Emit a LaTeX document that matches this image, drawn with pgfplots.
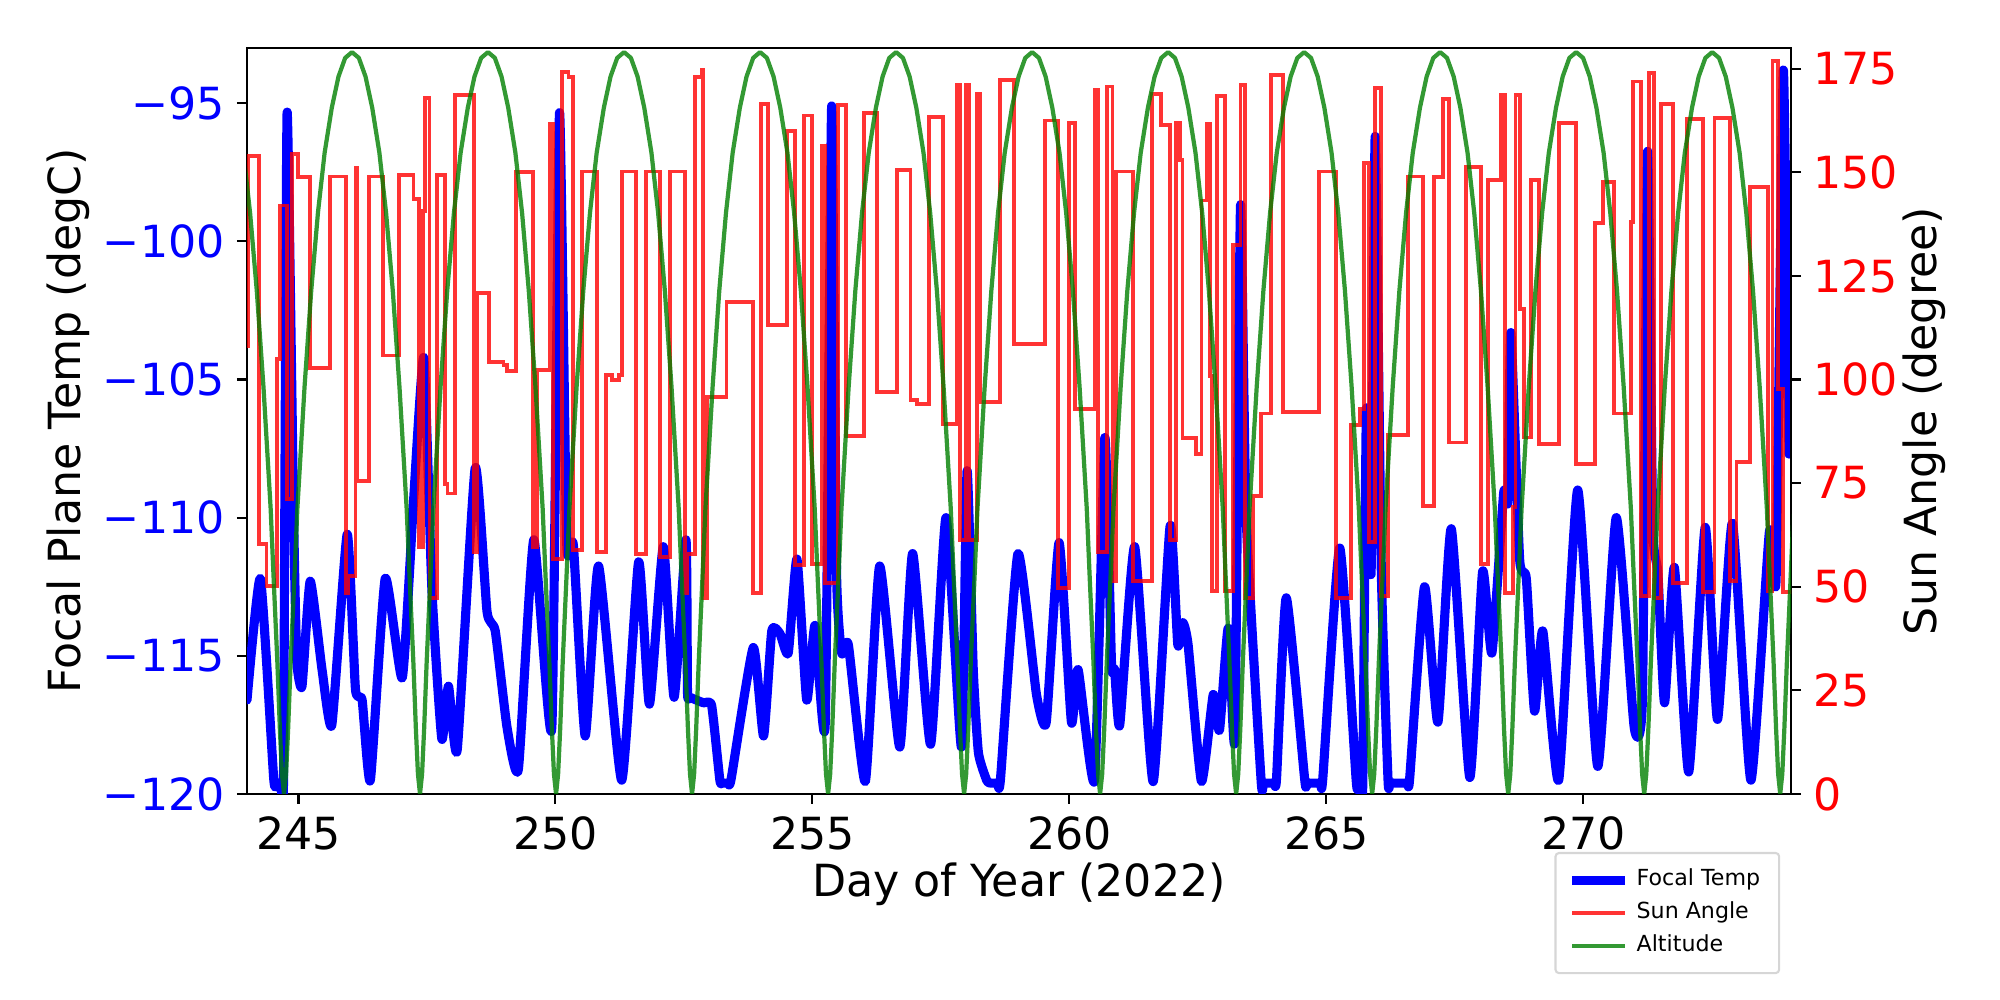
\documentclass[border=0pt]{standalone}
\usepackage{pgfplots}
\pgfplotsset{compat=1.18}
\usepackage{fontspec}
\setmainfont{DejaVu Sans}
\definecolor{mblue}{rgb}{0,0,1}
\definecolor{mred}{rgb}{1,0,0}
\definecolor{mgreen}{rgb}{0,0.502,0}
\definecolor{legframe}{rgb}{0.84,0.84,0.84}
\newcommand{\tf}{\fontsize{12.6}{15}\selectfont}
\begin{document}
\begin{tikzpicture}
\path[use as bounding box] (0,0) rectangle (200mm,100mm);
\begin{axis}[
  at={(24.7mm,20.6mm)}, anchor=south west,
  width=154.4mm, height=74.6mm, scale only axis,
  xmin=244, xmax=274.04, ymin=-120, ymax=-93,
  tick pos=left, tick align=outside, major tick length=1mm,
  axis line style={line width=0.63pt},
  every tick/.style={black, line width=0.63pt},
  xtick={245,250,255,260,265,270},
  xticklabels={245,250,255,260,265,270},
  ytick={-120,-115,-110,-105,-100,-95},
  yticklabels={−120,−115,−110,−105,−100,−95},
  /pgf/number format/assume math mode=true,
  xticklabel style={font=\tf},
  yticklabel style={font=\tf, text=mblue},
  xlabel={Day of Year (2022)},
  ylabel={Focal Plane Temp (degC)},
  label style={font=\tf},
  xlabel style={at={(axis description cs:0.5,-0.1206)}, anchor=center},
  ylabel style={at={(axis description cs:-0.1159,0.5)}, anchor=center, rotate=0},
]
\addplot[mblue, line width=2.6pt, line join=round, line cap=round, smooth, tension=0.3] coordinates {
(244.0,-116.6)(244.26,-112.2)(244.52,-119.45)(244.58,-119.6)(244.66,-119.6)(244.71,-119.5)(244.78,-95.35)(244.91,-110.3)(244.97,-115.2)(245.07,-116.1)(245.23,-112.3)(245.46,-115.5)(245.65,-117.5)(245.95,-110.6)(246.11,-116.2)(246.24,-116.6)(246.40,-119.5)(246.69,-112.2)(247.02,-115.8)(247.24,-109.4)(247.44,-104.2)(247.60,-112.7)(247.79,-118.0)(247.92,-116.1)(248.09,-118.4)(248.44,-108.2)(248.67,-113.4)(248.83,-114.1)(249.06,-117.6)(249.28,-119.1)(249.58,-110.8)(249.93,-117.6)(250.08,-95.35)(250.22,-110.9)(250.35,-111.0)(250.58,-117.9)(250.84,-111.75)(251.29,-119.5)(251.62,-111.6)(251.83,-116.75)(252.10,-111.05)(252.31,-116.5)(252.54,-110.8)(252.57,-116.3)(252.62,-116.5)(252.88,-116.7)(253.04,-116.8)(253.20,-119.5)(253.25,-119.6)(253.36,-119.6)(253.42,-119.45)(253.85,-114.7)(254.05,-117.9)(254.21,-114.1)(254.37,-114.2)(254.53,-114.9)(254.70,-111.5)(254.89,-116.6)(255.05,-113.9)(255.25,-117.45)(255.375,-95.1)(255.47,-112.0)(255.57,-114.9)(255.70,-114.6)(256.03,-119.55)(256.31,-111.75)(256.70,-118.3)(256.95,-111.3)(257.30,-118.2)(257.60,-110.0)(257.90,-118.3)(258.01,-108.3)(258.13,-115.5)(258.23,-118.5)(258.39,-119.5)(258.45,-119.6)(258.60,-119.6)(258.66,-119.45)(259.00,-111.3)(259.36,-116.4)(259.55,-117.4)(259.80,-110.9)(260.04,-117.4)(260.17,-115.5)(260.49,-119.5)(260.69,-107.1)(260.82,-115.3)(260.88,-115.5)(260.98,-117.5)(261.27,-111.05)(261.63,-119.55)(261.96,-110.3)(262.11,-114.6)(262.21,-113.8)(262.31,-114.6)(262.57,-119.55)(262.80,-116.4)(262.92,-117.7)(263.09,-114.0)(263.22,-118.0)(263.33,-98.7)(263.44,-110.0)(263.73,-119.5)(263.78,-119.6)(263.98,-119.6)(264.03,-119.45)(264.22,-112.9)(264.58,-119.5)(264.63,-119.6)(264.88,-119.6)(264.93,-119.45)(265.26,-111.1)(265.58,-119.5)(265.62,-119.6)(265.68,-119.6)(265.71,-119.45)(265.78,-106.05)(265.87,-112.0)(265.95,-96.2)(266.07,-112.0)(266.20,-119.5)(266.25,-119.6)(266.57,-119.6)(266.62,-119.45)(266.91,-112.5)(267.17,-117.4)(267.43,-110.4)(267.79,-119.4)(268.04,-111.95)(268.22,-114.9)(268.45,-109.1)(268.53,-109.4)(268.59,-103.3)(268.76,-111.5)(268.89,-112.2)(269.05,-117.0)(269.21,-114.1)(269.52,-119.5)(269.89,-109.0)(270.28,-119.0)(270.64,-110.0)(270.99,-117.6)(271.15,-116.5)(271.25,-96.75)(271.35,-110.3)(271.45,-112.0)(271.58,-116.7)(271.77,-111.8)(272.05,-119.2)(272.37,-110.35)(272.61,-117.3)(272.90,-110.2)(273.26,-119.5)(273.62,-110.5)(273.75,-112.2)(273.89,-93.8)(274.0,-107.7)
};
\end{axis}
\begin{axis}[
  at={(24.7mm,20.6mm)}, anchor=south west,
  width=154.4mm, height=74.6mm, scale only axis,
  xmin=244, xmax=274.04, ymin=0, ymax=180,
  axis x line=none, axis y line*=right,
  tick align=outside, major tick length=1mm,
  axis line style={line width=0.63pt},
  every tick/.style={black, line width=0.63pt},
  ytick={0,25,50,75,100,125,150,175},
  yticklabels={0,25,50,75,100,125,150,175},
  /pgf/number format/assume math mode=true,
  yticklabel style={font=\tf, text=mred},
  ylabel={Sun Angle (degree)},
  ylabel style={font=\tf, at={(axis description cs:1.0861,0.5)}, anchor=center, rotate=0},
  legend style={at={(axis description cs:0.993,-0.0777)}, anchor=north east,
    font=\fontsize{6.3}{7.6}\selectfont, draw=legframe, line width=0.6pt,
    rounded corners=1pt, inner xsep=1.2mm, inner ysep=0.9mm, row sep=-0.9pt},
  legend cell align=left,
  legend image code/.code={\draw[#1] (0mm,0mm) -- (5.3mm,0mm);},
]
\addlegendimage{mblue, line width=2.6pt}
\addlegendentry{Focal Temp}
\addplot[mred, opacity=0.8, line width=1.1pt, const plot mark left] coordinates {
(244.0,108)(244.03,154)(244.23,60.3)(244.38,50.2)(244.585,105)(244.65,142)(244.78,71.2)(244.876,154.4)(244.99,148.8)(245.22,102.7)(245.62,149)(245.93,48.4)(245.96,52.5)(246.11,151)(246.15,75.5)(246.37,149)(246.65,105.8)(246.95,149.4)(247.24,143.5)(247.34,59.5)(247.42,140.6)(247.47,168)(247.55,47.3)(247.70,149.4)(247.86,74.7)(247.90,72.5)(248.05,168.6)(248.41,58.3)(248.47,120.8)(248.70,104.2)(248.99,103.5)(249.06,102)(249.24,150)(249.56,59.5)(249.64,102.3)(249.90,161.6)(249.96,56.8)(250.13,174.2)(250.255,173)(250.34,58.9)(250.515,150.2)(250.81,58.3)(250.99,101)(251.10,99.8)(251.23,101)(251.29,150.2)(251.57,57.8)(251.765,150.2)(252.04,57.2)(252.23,150.2)(252.52,48.4)(252.56,57.8)(252.72,173)(252.85,174.7)(252.88,47.3)(252.945,95.7)(253.33,118.7)(253.85,48.4)(253.995,166.5)(254.14,113.2)(254.51,159.9)(254.66,55.2)(254.84,163.7)(254.99,55.4)(255.18,156.4)(255.25,51)(255.49,166.3)(255.65,86.3)(256.01,164.3)(256.26,96.9)(256.64,150.5)(256.91,95.1)(257.03,94.2)(257.27,163.4)(257.545,89.3)(257.82,171)(257.88,61.3)(257.99,171)(258.05,61.3)(258.21,169)(258.26,94.5)(258.65,172.3)(258.92,108.5)(259.52,162.5)(259.78,49.8)(259.995,161.8)(260.105,92.8)(260.49,169.8)(260.56,58.3)(260.73,170.7)(260.84,51.3)(260.90,150.2)(261.24,51.3)(261.615,168.8)(261.79,161.4)(261.95,61.3)(262.07,161.8)(262.146,152.9)(262.20,85.8)(262.47,82)(262.57,143.2)(262.68,161.6)(262.74,100.9)(262.78,49)(262.87,168.4)(263.02,49)(263.18,132.4)(263.33,171)(263.41,47.3)(263.57,71.8)(263.73,91.8)(263.93,173.5)(264.16,92.2)(264.855,150.2)(265.19,47.3)(265.48,89)(265.65,92.8)(265.74,152.3)(265.83,60.7)(265.94,170.4)(266.07,47.8)(266.20,86.7)(266.59,149)(266.88,69.4)(267.10,148.8)(267.27,167.7)(267.38,84.8)(267.72,151.3)(268.01,55.4)(268.14,148.2)(268.40,168.6)(268.48,48.4)(268.63,69.2)(268.68,168.6)(268.76,117)(268.85,86)(268.98,148.2)(269.145,84.4)(269.52,161.8)(269.86,79.7)(270.23,137.7)(270.38,147.6)(270.59,91.8)(270.93,138)(270.97,171.9)(271.12,47.8)(271.28,173.9)(271.38,47.3)(271.51,166.5)(271.74,51)(272.01,162.8)(272.32,48.7)(272.55,163)(272.85,51.3)(272.98,80.2)(273.24,146.4)(273.60,49)(273.68,176.8)(273.78,97.7)(273.88,48.7)(274.05,48.7)
};
\addlegendentry{Sun Angle}
\addplot[mgreen, opacity=0.8, line width=1.2pt, line join=round] coordinates {
(243.670,173.1)(243.800,165.6)(243.930,154.7)(244.060,140.2)(244.190,121.5)(244.320,98.3)(244.460,68.9)(244.520,51.5)(244.590,32.0)(244.640,15.6)(244.680,4.8)
(244.720,0)(244.760,4.8)(244.800,15.6)(244.850,32.0)(244.920,51.5)(244.980,68.9)(245.120,98.3)(245.250,121.5)(245.380,140.2)(245.510,154.7)(245.650,165.6)(245.780,173.1)(245.910,177.6)(246.043,179)(246.176,177.6)(246.306,173.1)(246.436,165.6)(246.576,154.7)(246.706,140.2)(246.836,121.5)(246.966,98.3)(247.106,68.9)(247.166,51.5)(247.236,32.0)(247.286,15.6)(247.326,4.8)
(247.366,0)(247.406,4.8)(247.446,15.6)(247.496,32.0)(247.566,51.5)(247.626,68.9)(247.766,98.3)(247.896,121.5)(248.026,140.2)(248.156,154.7)(248.296,165.6)(248.426,173.1)(248.556,177.6)(248.689,179)(248.822,177.6)(248.952,173.1)(249.082,165.6)(249.222,154.7)(249.352,140.2)(249.482,121.5)(249.612,98.3)(249.752,68.9)(249.812,51.5)(249.882,32.0)(249.932,15.6)(249.972,4.8)
(250.013,0)(250.053,4.8)(250.093,15.6)(250.143,32.0)(250.213,51.5)(250.273,68.9)(250.413,98.3)(250.543,121.5)(250.673,140.2)(250.803,154.7)(250.943,165.6)(251.073,173.1)(251.203,177.6)(251.336,179)(251.469,177.6)(251.599,173.1)(251.729,165.6)(251.869,154.7)(251.999,140.2)(252.129,121.5)(252.259,98.3)(252.399,68.9)(252.459,51.5)(252.529,32.0)(252.579,15.6)(252.619,4.8)
(252.659,0)(252.699,4.8)(252.739,15.6)(252.789,32.0)(252.859,51.5)(252.919,68.9)(253.059,98.3)(253.189,121.5)(253.319,140.2)(253.449,154.7)(253.589,165.6)(253.719,173.1)(253.849,177.6)(253.982,179)(254.115,177.6)(254.245,173.1)(254.375,165.6)(254.515,154.7)(254.645,140.2)(254.775,121.5)(254.905,98.3)(255.045,68.9)(255.105,51.5)(255.175,32.0)(255.225,15.6)(255.265,4.8)
(255.306,0)(255.346,4.8)(255.386,15.6)(255.436,32.0)(255.506,51.5)(255.566,68.9)(255.706,98.3)(255.836,121.5)(255.966,140.2)(256.096,154.7)(256.236,165.6)(256.366,173.1)(256.496,177.6)(256.629,179)(256.762,177.6)(256.892,173.1)(257.022,165.6)(257.162,154.7)(257.292,140.2)(257.422,121.5)(257.552,98.3)(257.692,68.9)(257.752,51.5)(257.822,32.0)(257.872,15.6)(257.912,4.8)
(257.952,0)(257.992,4.8)(258.032,15.6)(258.082,32.0)(258.152,51.5)(258.212,68.9)(258.352,98.3)(258.482,121.5)(258.612,140.2)(258.742,154.7)(258.882,165.6)(259.012,173.1)(259.142,177.6)(259.275,179)(259.408,177.6)(259.538,173.1)(259.668,165.6)(259.808,154.7)(259.938,140.2)(260.068,121.5)(260.198,98.3)(260.338,68.9)(260.398,51.5)(260.468,32.0)(260.518,15.6)(260.558,4.8)
(260.598,0)(260.638,4.8)(260.678,15.6)(260.728,32.0)(260.798,51.5)(260.858,68.9)(260.998,98.3)(261.128,121.5)(261.258,140.2)(261.388,154.7)(261.528,165.6)(261.658,173.1)(261.788,177.6)(261.921,179)(262.054,177.6)(262.184,173.1)(262.314,165.6)(262.454,154.7)(262.584,140.2)(262.714,121.5)(262.844,98.3)(262.984,68.9)(263.044,51.5)(263.114,32.0)(263.164,15.6)(263.204,4.8)
(263.245,0)(263.285,4.8)(263.325,15.6)(263.375,32.0)(263.445,51.5)(263.505,68.9)(263.645,98.3)(263.775,121.5)(263.905,140.2)(264.035,154.7)(264.175,165.6)(264.305,173.1)(264.435,177.6)(264.568,179)(264.701,177.6)(264.831,173.1)(264.961,165.6)(265.101,154.7)(265.231,140.2)(265.361,121.5)(265.491,98.3)(265.631,68.9)(265.691,51.5)(265.761,32.0)(265.811,15.6)(265.851,4.8)
(265.891,0)(265.931,4.8)(265.971,15.6)(266.021,32.0)(266.091,51.5)(266.151,68.9)(266.291,98.3)(266.421,121.5)(266.551,140.2)(266.681,154.7)(266.821,165.6)(266.951,173.1)(267.081,177.6)(267.214,179)(267.347,177.6)(267.477,173.1)(267.607,165.6)(267.747,154.7)(267.877,140.2)(268.007,121.5)(268.137,98.3)(268.277,68.9)(268.337,51.5)(268.407,32.0)(268.457,15.6)(268.497,4.8)
(268.538,0)(268.578,4.8)(268.618,15.6)(268.668,32.0)(268.738,51.5)(268.798,68.9)(268.938,98.3)(269.068,121.5)(269.198,140.2)(269.328,154.7)(269.468,165.6)(269.598,173.1)(269.728,177.6)(269.861,179)(269.994,177.6)(270.124,173.1)(270.254,165.6)(270.394,154.7)(270.524,140.2)(270.654,121.5)(270.784,98.3)(270.924,68.9)(270.984,51.5)(271.054,32.0)(271.104,15.6)(271.144,4.8)
(271.184,0)(271.224,4.8)(271.264,15.6)(271.314,32.0)(271.384,51.5)(271.444,68.9)(271.584,98.3)(271.714,121.5)(271.844,140.2)(271.974,154.7)(272.114,165.6)(272.244,173.1)(272.374,177.6)(272.507,179)(272.640,177.6)(272.770,173.1)(272.900,165.6)(273.040,154.7)(273.170,140.2)(273.300,121.5)(273.430,98.3)(273.570,68.9)(273.630,51.5)(273.700,32.0)(273.750,15.6)(273.790,4.8)
(273.830,0)(273.870,4.8)(273.910,15.6)(273.960,32.0)(274.030,51.5)(274.090,68.9)
};
\addlegendentry{Altitude}
\end{axis}
\end{tikzpicture}
\end{document}
